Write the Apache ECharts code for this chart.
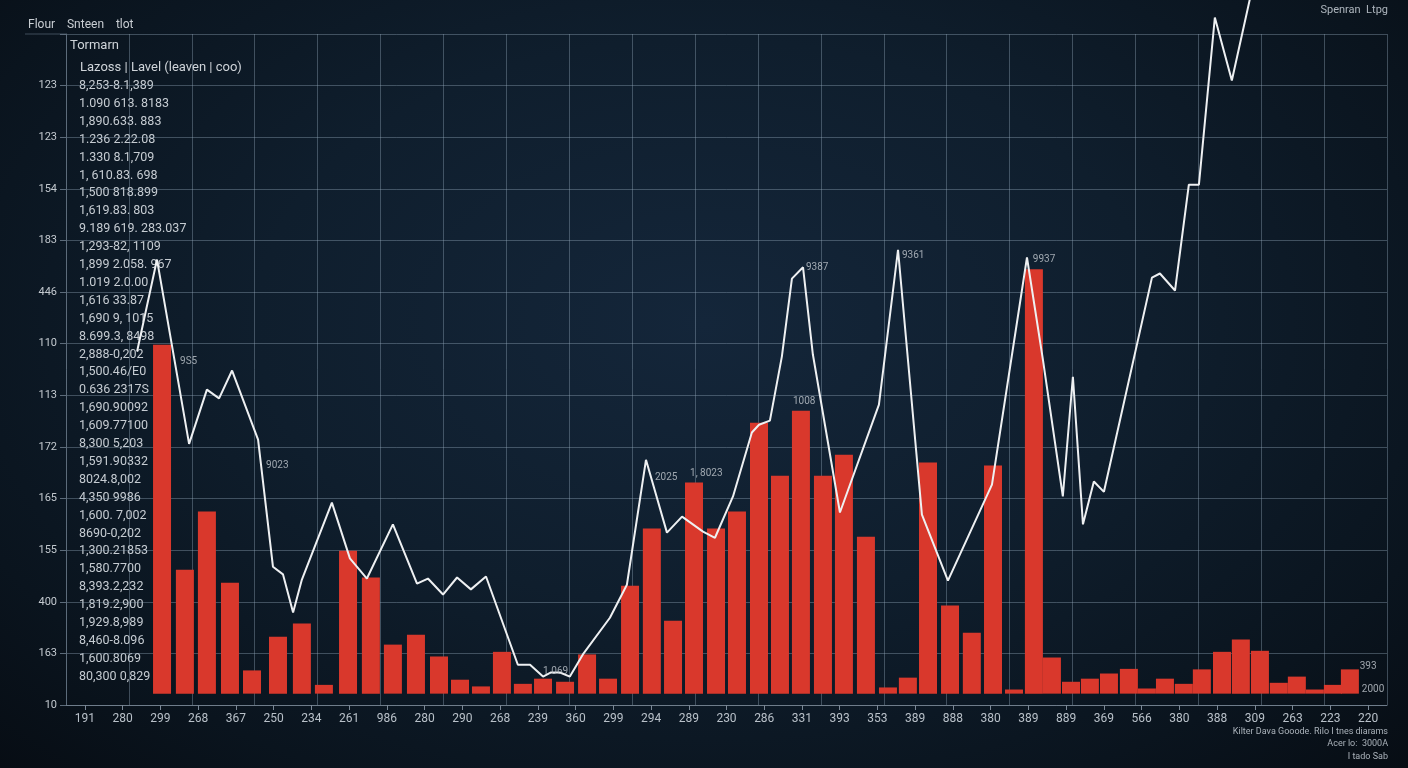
<!DOCTYPE html>
<html>
<head>
<meta charset="utf-8">
<title>chart</title>
<script src="https://cdn.jsdelivr.net/npm/echarts@6/dist/echarts.min.js"></script>
<style>
  html, body { margin: 0; padding: 0; width: 1408px; height: 768px; overflow: hidden; }
  body { background: radial-gradient(ellipse at 50% 42%, #14263a 0%, #0f1e2d 45%, #0a141e 80%, #070d14 100%); }
  #main { width: 1408px; height: 768px; }
</style>
</head>
<body>
<div id="main"></div>
<script>
// y tick labels, bottom (0) to top
var yLabels = ['10', '163', '400', '155', '165', '172', '113', '110', '446', '183', '154', '123', '123', ''];

// x tick labels under the axis
var xLabels = ['191', '280', '299', '268', '367', '250', '234', '261', '986', '280', '290', '268', '239', '360',
  '299', '294', '289', '230', '286', '331', '393', '353', '389', '888', '380', '389', '889', '369',
  '566', '380', '388', '309', '263', '223', '220'];

// red bars: position along the axis (slot units) and height
var barX = [4.58, 5.67, 6.72, 7.82, 8.87, 10.11, 11.25, 12.30, 13.45, 14.54, 15.59, 16.69, 17.79, 18.79,
  19.79, 20.79, 21.79, 22.75, 23.80, 24.85, 25.85, 26.90, 27.94, 28.95, 29.95, 31.00, 32.00, 33.05,
  34.05, 35.05, 36.10, 37.10, 38.15, 39.20, 40.15, 41.11, 42.16, 43.20, 44.21, 45.21, 46.16, 47.02,
  47.93, 48.83, 49.74, 50.69, 51.55, 52.41, 53.31, 54.17, 55.13, 56.03, 56.94, 57.84, 58.70, 59.56,
  60.42, 61.23];
var barValues = [6.76, 2.40, 3.53, 2.15, 0.45, 1.10, 1.36, 0.17, 2.77, 2.25, 0.95, 1.14, 0.72, 0.27,
  0.14, 0.81, 0.19, 0.29, 0.23, 0.76, 0.29, 2.09, 3.20, 1.41, 4.09, 3.20, 3.53, 5.25, 4.22, 5.48,
  4.22, 4.63, 3.04, 0.12, 0.31, 4.48, 1.71, 1.18, 4.42, 0.08, 8.22, 0.70, 0.23, 0.29, 0.39, 0.48,
  0.10, 0.29, 0.19, 0.47, 0.81, 1.05, 0.83, 0.21, 0.33, 0.08, 0.17, 0.47];

// white line (x in slot units, y in bar units)
var lineX = [3.39, 4.34, 5.87, 6.72, 7.30, 7.92, 9.16, 9.87, 10.35, 10.83, 11.25, 12.68, 13.54, 14.35,
  15.59, 16.74, 17.26, 17.98, 18.65, 19.31, 20.03, 21.55, 22.13, 22.75, 23.13, 23.56, 24.03, 24.65,
  25.94, 26.75, 27.66, 28.66, 29.38, 30.38, 30.95, 31.81, 32.71, 33.05, 33.57, 34.14, 34.62, 35.15,
  35.62, 36.91, 38.77, 39.68, 40.82, 42.06, 44.16, 45.83, 46.59, 47.54, 48.02, 48.50, 49.02, 49.50,
  51.79, 52.17, 52.89, 53.55, 54.03, 54.79, 55.60, 56.56];
var lineY = [6.63, 8.41, 4.84, 5.89, 5.72, 6.26, 4.92, 2.46, 2.31, 1.57, 2.21, 3.70, 2.62, 2.23,
  3.28, 2.13, 2.23, 1.92, 2.25, 2.02, 2.27, 0.56, 0.56, 0.33, 0.41, 0.41, 0.33, 0.76,
  1.47, 2.11, 4.53, 3.12, 3.43, 3.14, 3.02, 3.82, 5.06, 5.21, 5.29, 6.53, 8.04, 8.26,
  6.57, 3.51, 5.60, 8.60, 3.47, 2.19, 4.05, 8.45, 6.47, 3.82, 6.14, 3.28, 4.11, 3.91,
  8.06, 8.14, 7.81, 9.86, 9.86, 13.10, 11.88, 13.64];

// small value notes beside the line
var noteText = ['9S5', '9023', '2025', '1, 8023', '1008', '9387', '9361', '9937', '1.069', '393', '2000'];
var noteX = [5.44, 9.54, 28.09, 29.76, 34.67, 35.29, 39.87, 46.11, 22.75, 61.7, 61.8];
var noteY = [6.43, 4.42, 4.19, 4.26, 5.66, 8.26, 8.49, 8.41, 0.43, 0.52, 0.08];

// left side text block
var sideRows = ['8,253-8.1,389', '1.090 613. 8183', '1,890.633. 883', '1.236 2.22.08', '1.330 8.1,709',
  '1, 610.83. 698', '1,500 818.899', '1,619.83. 803', '9.189 619. 283.037', '1,293-82, 1109',
  '1,899 2.058. 967', '1.019 2.0.00', '1,616 33.87', '1,690 9, 1015', '8.699.3, 8498', '2,888-0,202',
  '1,500.46/E0', '0.636 2317S', '1,690.90092', '1,609.77100', '8,300 5,203', '1,591.90332',
  '8024.8,002', '4,350 9986', '1,600. 7,002', '8690-0,202', '1,300.21853', '1,580.7700',
  '8,393.2,232', '1,819.2,900', '1,929.8,989', '8,460-8.096', '1,600.8069', '80,300 0,829'];

var footLines = ['Kilter Dava Gooode. Rilo I tnes diarams', 'Acer lo:  3000A', 'I tado Sab'];

var SLOTS = 63;
var barData = barX.map(function (x, i) { return [x, barValues[i]]; });
var lineData = lineX.map(function (x, i) { return [x, lineY[i]]; });
var noteData = noteText.map(function (t, i) { return [noteX[i], noteY[i], t]; });

var FONT = 'Roboto, "Liberation Sans", sans-serif';
var gridColor = 'rgba(150,170,190,0.38)';

var chart = echarts.init(document.getElementById('main'), null, { renderer: 'canvas' });

var graphics = [
  { type: 'line', shape: { x1: 25, y1: 34, x2: 66, y2: 34 }, style: { stroke: gridColor, lineWidth: 1 } },
  { type: 'text', left: 28, top: 19, style: { text: 'Flour    Snteen    tlot', fill: '#c9ced3', font: '12px ' + FONT } },
  { type: 'text', left: 70, top: 39, style: { text: 'Tormarn', fill: '#cfd4d9', font: '13px ' + FONT } },
  { type: 'text', left: 80, top: 61, style: { text: 'Lazoss | Lavel (leaven | coo)', fill: '#cfd4d9', font: '13px ' + FONT } },
  {
    type: 'text', left: 79, top: 77,
    style: { text: sideRows.join('\n'), fill: '#c6ccd2', font: '12.5px ' + FONT, lineHeight: 17.9 }
  },
  { type: 'text', right: 20, top: 5, style: { text: 'Spenran  Ltpg', fill: '#aeb6be', font: '11px ' + FONT } }
];
footLines.forEach(function (t, i) {
  graphics.push({ type: 'text', right: 20, top: 727 + i * 12.5, style: { text: t, fill: '#aab2ba', font: '9px ' + FONT } });
});

var option = {
  backgroundColor: 'transparent',
  animation: false,
  grid: { left: 66, right: 21, top: 34, bottom: 63, containLabel: false },
  xAxis: [
    {
      type: 'category', data: xLabels, position: 'bottom', boundaryGap: true,
      axisLine: { show: true, lineStyle: { color: '#6f7d8b', width: 1 } },
      axisTick: { show: true, alignWithLabel: true, length: 5, lineStyle: { color: '#7b8896' } },
      axisLabel: { color: '#b9c1c9', fontSize: 12, fontFamily: FONT, margin: 8, interval: 0 },
      splitLine: { show: false }
    },
    {
      type: 'value', min: 0, max: SLOTS, interval: 3, position: 'bottom',
      axisLine: { show: false }, axisTick: { show: false }, axisLabel: { show: false },
      splitLine: { show: true, lineStyle: { color: gridColor, width: 1 } }
    }
  ],
  yAxis: [
    {
      type: 'value', min: 0, max: 13, interval: 1, position: 'left',
      axisLine: { show: true, lineStyle: { color: '#5c6b7a' } },
      axisTick: { show: true, length: 6, lineStyle: { color: '#5c6b7a' } },
      axisLabel: {
        color: '#c3c9cf', fontSize: 11, fontFamily: FONT, margin: 9,
        formatter: function (v) { return yLabels[Math.round(v)] || ''; }
      },
      splitLine: { show: true, lineStyle: { color: gridColor, width: 1 } }
    },
    {
      type: 'value', min: -0.22, max: 12.78, show: false, position: 'left',
      splitLine: { show: false }
    }
  ],
  graphic: graphics,
  series: [
    {
      type: 'bar', xAxisIndex: 1, yAxisIndex: 1, data: barData,
      barWidth: 18,
      itemStyle: { color: '#d9382c' },
      z: 2
    },
    {
      type: 'line', xAxisIndex: 1, yAxisIndex: 1, data: lineData,
      showSymbol: false, symbol: 'none', clip: false,
      lineStyle: { color: '#eef0f2', width: 2 },
      z: 4
    },
    {
      type: 'scatter', xAxisIndex: 1, yAxisIndex: 1, data: noteData,
      symbolSize: 0, clip: false,
      label: {
        show: true, position: 'right', distance: 0,
        formatter: function (p) { return p.value[2]; },
        color: '#c3c9cf', fontSize: 10, fontFamily: FONT
      },
      z: 5
    }
  ]
};

chart.setOption(option);
</script>
</body>
</html>
